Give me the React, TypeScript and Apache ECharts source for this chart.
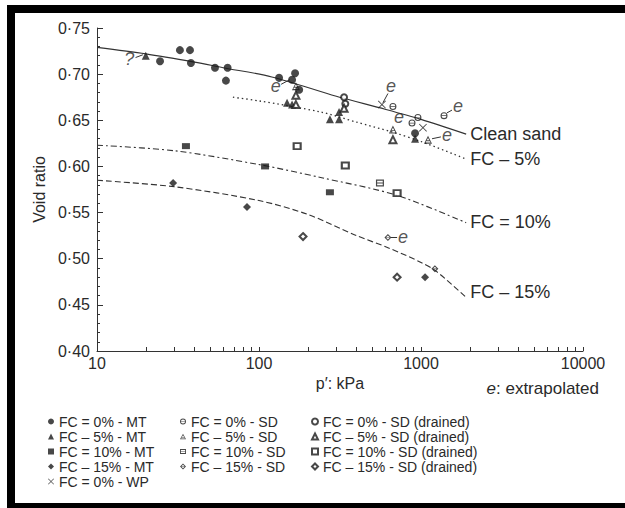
import React, { useEffect, useRef } from 'react';
import * as echarts from 'echarts';

const FONT = '"Liberation Sans", Arial, sans-serif';
const INK = '#1a1a1a';
const TEXT = '#2a2a2a';

// Axis ticks
const X_LABELS = [10, 100, 1000, 10000];
const X_TICKS = [10, 20, 30, 40, 50, 60, 70, 80, 90, 100, 200, 300, 400, 500, 600, 700, 800, 900, 1000, 2000, 3000, 4000, 5000, 6000, 7000, 8000, 9000, 10000];
const Y_MIN = 0.4;
const Y_MAX = 0.75;
const Y_STEP = 0.05;

// Trend curves [p', e]
const cleanSand = [[10, 0.729], [20, 0.722], [40, 0.713], [60, 0.707], [120, 0.697], [300, 0.676], [600, 0.662], [1000, 0.651], [1900, 0.635]];
const fc5Curve = [[69, 0.675], [100, 0.671], [240, 0.659], [400, 0.648], [670, 0.637], [1000, 0.627], [1900, 0.608]];
const fc10Curve = [[10, 0.623], [30, 0.617], [100, 0.602], [240, 0.588], [700, 0.569], [1900, 0.539]];
const fc15Curve = [[10, 0.585], [30, 0.578], [100, 0.563], [200, 0.548], [400, 0.525], [625, 0.512], [1000, 0.496], [1250, 0.486], [1900, 0.458]];

// Test data [p', e]
const fc0MT = [[24.5, 0.714], [32.5, 0.726], [37.5, 0.726], [38, 0.712], [53.5, 0.707], [64, 0.707], [62.5, 0.693], [133, 0.696], [160, 0.694], [167, 0.701], [177, 0.683], [919, 0.636]];
const fc5MT = [[20, 0.72], [149, 0.669], [160, 0.667], [274, 0.651], [312, 0.651], [312, 0.659], [919, 0.63]];
const fc10MT = [[35.4, 0.622], [109, 0.6], [274, 0.572]];
const fc15MT = [[29.5, 0.582], [84.3, 0.556], [1059, 0.48]];
const fc0WP = [[574, 0.667], [1028, 0.642]];
const fc0SD = [[671, 0.665], [880, 0.647], [957, 0.653], [1387, 0.655]];
const fc5SD = [[169, 0.687], [671, 0.64], [1105, 0.629]];
const fc10SD = [[558, 0.582]];
const fc15SD = [[625, 0.523], [1218, 0.489]];
const fc0SDd = [[335, 0.675], [341, 0.668]];
const fc5SDd = [[169, 0.677], [169, 0.667], [335, 0.663], [671, 0.629]];
const fc10SDd = [[172, 0.622], [341, 0.601], [712, 0.571]];
const fc15SDd = [[187, 0.524], [712, 0.48]];

// Annotations: extrapolated markers "e" and the "?"
const annotText = ['e', 'e', 'e', 'e', 'e', 'e', '?'];
const annotPos = [[127, 0.687], [653, 0.687], [731, 0.654], [1690, 0.666], [1445, 0.634], [774, 0.523], [15.8, 0.716]];
const leaders = [
  [[137, 0.689], [155, 0.694]],
  [[625, 0.679], [582, 0.669]],
  [[1553, 0.661], [1445, 0.658]],
  [[1327, 0.632], [1170, 0.63]],
  [[712, 0.523], [653, 0.523]],
  [[17.3, 0.718], [19.2, 0.721]],
];

const SYM = {
  circleBar: 'path://M10 0A10 10 0 1 1 10 20A10 10 0 1 1 10 0ZM10 3A7 7 0 1 0 10 17A7 7 0 1 0 10 3ZM2 9L18 9L18 11L2 11Z',
  triBar: 'path://M10 0L20 18L0 18ZM10 5L3.6 15.5L16.4 15.5ZM5 10.5L15 10.5L15 12.5L5 12.5Z',
  rectBar: 'path://M0 0L20 0L20 16L0 16ZM3 3L3 13L17 13L17 3ZM2 7L18 7L18 9L2 9Z',
  diamondBar: 'path://M10 0L20 10L10 20L0 10ZM10 4L4 10L10 16L16 10ZM3 9L17 9L17 11L3 11Z',
  cross: 'path://M0 1.5L1.5 0L10 8.5L18.5 0L20 1.5L11.5 10L20 18.5L18.5 20L10 11.5L1.5 20L0 18.5L8.5 10Z',
};

const col1 = ['FC = 0% - MT', 'FC – 5% - MT', 'FC = 10% - MT', 'FC – 15% - MT', 'FC = 0% - WP'];
const col2 = ['FC = 0% - SD', 'FC – 5% - SD', 'FC = 10% - SD', 'FC – 15% - SD'];
const col3 = ['FC = 0% - SD (drained)', 'FC – 5% - SD (drained)', 'FC = 10% - SD (drained)', 'FC – 15% - SD (drained)'];

function scatter(name: string, data: number[][], symbol: string, size: number | number[], empty = false) {
  return {
    type: 'scatter',
    name,
    data,
    symbol,
    symbolSize: size,
    itemStyle: empty
      ? { color: INK, borderColor: INK, borderWidth: 1 }
      : { color: INK },
    z: 5,
  };
}

function curve(name: string, data: number[][], type: any, width: number, labelOffset: number[]) {
  return {
    type: 'line',
    name,
    data,
    smooth: 0.3,
    showSymbol: false,
    symbol: 'none',
    lineStyle: { color: '#333', width, type },
    endLabel: {
      show: true,
      formatter: name,
      fontFamily: FONT,
      fontSize: 18,
      color: TEXT,
      distance: 4,
      offset: labelOffset,
    },
    z: 3,
  };
}

function legend(names: string[], left: number) {
  return {
    data: names,
    orient: 'vertical',
    left,
    top: 414,
    padding: 0,
    itemGap: 0,
    itemWidth: 6,
    itemHeight: 6,
    selectedMode: false,
    itemStyle: { borderWidth: 0.8 },
    textStyle: { fontFamily: FONT, fontSize: 14, color: TEXT, lineHeight: 15 },
  };
}

export default function App() {
  const ref = useRef<HTMLDivElement>(null);
  useEffect(() => {
    const chart = echarts.init(ref.current!, null, { renderer: 'svg' });
    const option: any = {
      animation: false,
      backgroundColor: '#fff',
      textStyle: { fontFamily: FONT },
      grid: { left: 97, right: 42, top: 28, bottom: 157 },
      xAxis: {
        type: 'log',
        logBase: 10,
        min: 10,
        max: 10000,
        name: 'p′: kPa',
        nameLocation: 'middle',
        nameGap: 22,
        nameTextStyle: { fontFamily: FONT, fontSize: 16, color: TEXT },
        axisLine: { show: true, lineStyle: { color: '#333', width: 1 } },
        axisTick: { show: true, inside: true, length: 4, customValues: X_TICKS, lineStyle: { color: '#333' } },
        axisLabel: {
          customValues: X_LABELS,
          fontFamily: FONT,
          fontSize: 16,
          color: TEXT,
          margin: 4,
          formatter: (v: number) => String(Math.round(v)),
        },
        splitLine: { show: false },
        minorTick: { show: false },
      },
      yAxis: {
        type: 'value',
        min: Y_MIN,
        max: Y_MAX,
        interval: Y_STEP,
        name: 'Void ratio',
        nameLocation: 'middle',
        nameGap: 47,
        nameTextStyle: { fontFamily: FONT, fontSize: 16, color: TEXT },
        axisLine: { show: true, lineStyle: { color: '#333', width: 1 } },
        axisTick: { show: true, inside: true, length: 6, lineStyle: { color: '#333' } },
        minorTick: { show: true, splitNumber: 5, length: 3, lineStyle: { color: '#333' } },
        axisLabel: {
          fontFamily: FONT,
          fontSize: 16,
          color: TEXT,
          margin: 7,
          formatter: (v: number) => v.toFixed(2).replace('.', '·'),
        },
        splitLine: { show: false },
      },
      legend: [legend(col1, 48), legend(col2, 180), legend(col3, 311)],
      series: [
        curve('Clean sand', cleanSand, 'solid', 1.1, [0, 0]),
        curve('FC – 5%', fc5Curve, [1.5, 3], 1.3, [0, 0]),
        curve('FC = 10%', fc10Curve, [6, 3, 2, 3], 1.1, [0, -1]),
        curve('FC – 15%', fc15Curve, [6, 3], 1.1, [0, -5]),
        scatter(col1[0], fc0MT, 'circle', 8),
        scatter(col1[1], fc5MT, 'triangle', 8),
        scatter(col1[2], fc10MT, 'rect', [8, 6]),
        scatter(col1[3], fc15MT, 'diamond', 8),
        scatter(col1[4], fc0WP, SYM.cross, 8),
        scatter(col2[0], fc0SD, SYM.circleBar, 7),
        scatter(col2[1], fc5SD, SYM.triBar, 8),
        scatter(col2[2], fc10SD, SYM.rectBar, [8, 7]),
        scatter(col2[3], fc15SD, SYM.diamondBar, 7),
        scatter(col3[0], fc0SDd, 'emptyCircle', 6, true),
        scatter(col3[1], fc5SDd, 'emptyTriangle', 7, true),
        scatter(col3[2], fc10SDd, 'emptyRect', [7, 6], true),
        scatter(col3[3], fc15SDd, 'emptyDiamond', 7, true),
        {
          type: 'scatter',
          name: 'annotations',
          data: annotPos.map((p, i) => ({ value: p, name: annotText[i] })),
          symbolSize: 0,
          silent: true,
          label: {
            show: true,
            position: 'inside',
            formatter: '{b}',
            fontFamily: FONT,
            fontSize: 18,
            fontStyle: 'italic',
            color: TEXT,
          },
          z: 6,
        },
        {
          type: 'lines',
          name: 'leaders',
          coordinateSystem: 'cartesian2d',
          data: leaders.map((c) => ({ coords: c })),
          lineStyle: { color: '#333', width: 1, opacity: 1 },
          silent: true,
          z: 4,
        },
      ],
      graphic: [
        { type: 'rect', shape: { x: 7, y: 5, width: 618, height: 8 }, style: { fill: '#000' } },
        { type: 'rect', shape: { x: 7, y: 5, width: 8, height: 503 }, style: { fill: '#000' } },
        { type: 'rect', shape: { x: 7, y: 503, width: 618, height: 5 }, style: { fill: '#000' } },
        {
          type: 'text',
          x: 599,
          y: 388,
          style: {
            text: '{i|e}: extrapolated',
            align: 'right',
            verticalAlign: 'middle',
            fontFamily: FONT,
            fontSize: 17,
            fill: TEXT,
            rich: { i: { fontStyle: 'italic', fontFamily: FONT, fontSize: 17, fill: TEXT } },
          },
        },
      ],
    };
    chart.setOption(option);
    return () => chart.dispose();
  }, []);
  return (
    <div
      ref={ref}
      style={{ position: 'fixed', left: 0, top: 0, width: 625, height: 508, background: '#fff' }}
    />
  );
}
